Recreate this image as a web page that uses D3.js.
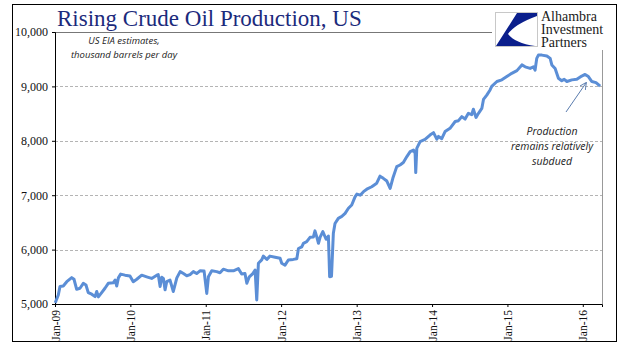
<!DOCTYPE html>
<html>
<head>
<meta charset="utf-8">
<script src="https://cdn.jsdelivr.net/npm/d3@7"></script>
<style>
  body { margin: 0; background: #fff; }
  svg { display: block; }
</style>
</head>
<body>
<div id="chart"></div>
<script>
// weekly-ish readings, thousand barrels per day
let dates = [
  '2009-01-02', '2009-01-17', '2009-01-25', '2009-02-10', '2009-02-27', '2009-03-23', '2009-04-03', '2009-04-16',
  '2009-05-02', '2009-05-18', '2009-05-31', '2009-06-11', '2009-06-28', '2009-07-14', '2009-07-22', '2009-07-30',
  '2009-08-15', '2009-08-31', '2009-09-16', '2009-10-10', '2009-10-19', '2009-10-27', '2009-11-04', '2009-11-15',
  '2009-12-06', '2009-12-30', '2010-01-15', '2010-02-01', '2010-02-25', '2010-03-21', '2010-04-14', '2010-05-09',
  '2010-05-16', '2010-05-25', '2010-06-02', '2010-06-10', '2010-06-18', '2010-06-26', '2010-07-12', '2010-07-28',
  '2010-08-14', '2010-08-30', '2010-09-15', '2010-10-01', '2010-10-17', '2010-11-02', '2010-11-18', '2010-12-04',
  '2010-12-24', '2011-01-06', '2011-01-14', '2011-01-30', '2011-02-23', '2011-03-11', '2011-03-27', '2011-04-21',
  '2011-05-15', '2011-06-08', '2011-06-24', '2011-07-10', '2011-07-19', '2011-07-31', '2011-08-17', '2011-08-28',
  '2011-09-05', '2011-09-13', '2011-09-29', '2011-10-07', '2011-10-24', '2011-11-08', '2011-12-03', '2011-12-27',
  '2012-01-04', '2012-01-20', '2012-02-05', '2012-02-29', '2012-03-17', '2012-03-25', '2012-04-10', '2012-04-18',
  '2012-05-04', '2012-05-20', '2012-06-05', '2012-06-13', '2012-06-22', '2012-06-30', '2012-07-08', '2012-07-21',
  '2012-08-06', '2012-08-17', '2012-08-23', '2012-09-01', '2012-09-10', '2012-09-18', '2012-10-04', '2012-10-21',
  '2012-11-06', '2012-11-22', '2012-12-08', '2012-12-24', '2013-01-02', '2013-01-18', '2013-02-03', '2013-02-19',
  '2013-03-15', '2013-04-08', '2013-04-24', '2013-05-10', '2013-05-27', '2013-06-12', '2013-06-25', '2013-07-14',
  '2013-07-30', '2013-08-15', '2013-09-01', '2013-09-17', '2013-10-03', '2013-10-11', '2013-10-14', '2013-10-19',
  '2013-11-04', '2013-11-28', '2013-12-22', '2014-01-08', '2014-01-24', '2014-02-01', '2014-02-17', '2014-03-05',
  '2014-03-29', '2014-04-23', '2014-05-09', '2014-05-25', '2014-06-10', '2014-06-26', '2014-07-12', '2014-07-20',
  '2014-08-02', '2014-08-13', '2014-08-30', '2014-09-07', '2014-09-23', '2014-10-09', '2014-10-17', '2014-11-11',
  '2014-12-05', '2014-12-29', '2015-01-22', '2015-02-16', '2015-03-12', '2015-03-28', '2015-04-21', '2015-05-07',
  '2015-05-15', '2015-05-23', '2015-05-31', '2015-06-17', '2015-07-11', '2015-07-27', '2015-08-04', '2015-08-20',
  '2015-09-05', '2015-09-21', '2015-10-03', '2015-10-16', '2015-11-09', '2015-12-03', '2015-12-27', '2016-01-12',
  '2016-01-28', '2016-02-14', '2016-03-05', '2016-03-25'
]

let production = [
  5020, 5165, 5320, 5330, 5410, 5485, 5455, 5270,
  5290, 5380, 5350, 5210, 5180, 5135, 5230, 5130,
  5210, 5290, 5380, 5390, 5440, 5330, 5480, 5550,
  5530, 5515, 5410, 5455, 5530, 5500, 5470, 5530,
  5540, 5320, 5490, 5470, 5260, 5410, 5440, 5230,
  5480, 5595, 5560, 5520, 5540, 5595, 5560, 5610,
  5605, 5195, 5500, 5610, 5595, 5575, 5640, 5610,
  5610, 5650, 5550, 5560, 5380, 5500, 5560, 5625,
  5075, 5750, 5810, 5880, 5820, 5880, 5860, 5840,
  5750, 5715, 5810, 5820, 5830, 6020, 6050, 6115,
  6145, 6225, 6230, 6345, 6230, 6115, 6230, 6330,
  6190, 6250, 5500, 5510, 6300, 6480, 6575, 6610,
  6665, 6760, 6820, 6970, 7020, 7000, 7065, 7110,
  7155, 7220, 7350, 7310, 7260, 7125, 7310, 7525,
  7555, 7600, 7710, 7800, 7830, 7770, 7415, 7860,
  7985, 8025, 8105, 8150, 8030, 8080, 8040, 8170,
  8230, 8355, 8370, 8445, 8400, 8505, 8480, 8580,
  8430, 8500, 8595, 8760, 8840, 8935, 9000, 9090,
  9120, 9180, 9240, 9290, 9395, 9360, 9330, 9360,
  9300, 9515, 9575, 9575, 9560, 9515, 9395, 9330,
  9150, 9105, 9130, 9090, 9120, 9130, 9190, 9220,
  9180, 9090, 9070, 9005
]

let yTicks = [5000, 6000, 7000, 8000, 9000, 10000]
let gridTicks = [6000, 7000, 8000, 9000]
let xDomain = ['2009-01-01', '2016-04-03']

let noteLeft = ['US EIA estimates,', 'thousand barrels per day']
let noteRight = ['Production', 'remains relatively', 'subdued']
let logoLines = ['Alhambra', 'Investment', 'Partners']

let width = 641
let height = 361
let margin = { top: 32, left: 55, right: 39, bottom: 57 }
let plotW = width - margin.left - margin.right
let plotH = height - margin.top - margin.bottom

let parse = d3.timeParse('%Y-%m-%d')
let datapoints = dates.map((d, i) => ({ date: parse(d), value: production[i] }))

let xScale = d3.scaleTime()
  .domain(xDomain.map(parse))
  .range([0, plotW])

let yScale = d3.scaleLinear()
  .domain([5000, 10000])
  .range([plotH, 0])

let svg = d3.select('#chart')
  .append('svg')
  .attr('width', width)
  .attr('height', height)

// outer frame
svg.append('rect')
  .attr('x', 12.5)
  .attr('y', 4.5)
  .attr('width', 604)
  .attr('height', 337)
  .attr('fill', 'white')
  .attr('stroke', '#000')

let g = svg.append('g')
  .attr('transform', `translate(${margin.left},${margin.top})`)

// dashed gridlines
g.selectAll('.grid')
  .data(gridTicks)
  .enter()
  .append('line')
  .attr('class', 'grid')
  .attr('x1', 0)
  .attr('x2', plotW)
  .attr('y1', d => Math.round(yScale(d)) + 0.5)
  .attr('y2', d => Math.round(yScale(d)) + 0.5)
  .attr('stroke', '#b4b4b4')
  .attr('stroke-dasharray', '3,2')

// plot area border top / right
g.append('line')
  .attr('x1', 0).attr('x2', plotW)
  .attr('y1', 0.5).attr('y2', 0.5)
  .attr('stroke', '#777')
g.append('line')
  .attr('x1', plotW + 0.5).attr('x2', plotW + 0.5)
  .attr('y1', 0).attr('y2', plotH)
  .attr('stroke', '#999')

// y axis
let yAxis = d3.axisLeft(yScale)
  .tickValues(yTicks)
  .tickSize(3)
  .tickFormat(d3.format(','))
g.append('g')
  .attr('class', 'y-axis')
  .call(yAxis)
  .call(s => s.select('.domain').attr('stroke', '#000'))
  .call(s => s.selectAll('text')
    .attr('font-family', 'Liberation Serif, serif')
    .attr('font-size', 12)
    .attr('fill', '#111')
    .attr('x', -7))

// x axis
let xAxis = d3.axisBottom(xScale)
  .ticks(d3.timeYear.every(1))
  .tickSize(3)
  .tickFormat(d3.timeFormat('%b-%y'))
g.append('g')
  .attr('class', 'x-axis')
  .attr('transform', `translate(0,${plotH})`)
  .call(xAxis)
  .call(s => s.select('.domain').attr('stroke', '#000'))
  .call(s => s.selectAll('text')
    .attr('font-family', 'Liberation Serif, serif')
    .attr('font-size', 11.5)
    .attr('fill', '#111')
    .attr('text-anchor', 'end')
    .attr('transform', 'rotate(-90)')
    .attr('x', -6)
    .attr('y', 0)
    .attr('dy', '0.35em'))

// the production line
let line = d3.line()
  .x(d => xScale(d.date))
  .y(d => yScale(d.value))

g.append('path')
  .datum(datapoints)
  .attr('d', line)
  .attr('fill', 'none')
  .attr('stroke', '#5b8ed6')
  .attr('stroke-width', 3)
  .attr('stroke-linejoin', 'round')

// white patch behind the logo
svg.append('rect')
  .attr('x', 492)
  .attr('y', 5)
  .attr('width', 124)
  .attr('height', 45)
  .attr('fill', 'white')

// logo
let logo = svg.append('g').attr('transform', 'translate(495,12)')
logo.append('rect')
  .attr('x', 0.5).attr('y', 0.5)
  .attr('width', 42).attr('height', 34)
  .attr('fill', 'white')
  .attr('stroke', '#c8c8c8')
logo.append('path')
  .attr('d', 'M22,1 L42,1 L42,4 Q20,12 13,22 Q20,31 40,34 L1,34 Z')
  .attr('fill', '#0b1f8c')

logo.selectAll('.logo-text')
  .data(logoLines)
  .enter()
  .append('text')
  .text(d => d)
  .attr('x', 46)
  .attr('y', (d, i) => 9 + i * 12.8)
  .attr('font-family', 'Liberation Serif, serif')
  .attr('font-size', 14)
  .attr('fill', '#1a1a1a')

// title
svg.append('text')
  .text('Rising Crude Oil Production, US')
  .attr('x', 57)
  .attr('y', 26)
  .attr('font-family', 'Liberation Serif, serif')
  .attr('font-size', 23)
  .attr('fill', '#1b2a7c')

// notes
svg.selectAll('.note-left')
  .data(noteLeft)
  .enter()
  .append('text')
  .text(d => d)
  .attr('x', 124)
  .attr('y', (d, i) => 44 + i * 13.5)
  .attr('text-anchor', 'middle')
  .attr('font-family', 'Open Sans, sans-serif')
  .attr('font-style', 'italic')
  .attr('font-size', 9.5)
  .attr('fill', '#222')

svg.selectAll('.note-right')
  .data(noteRight)
  .enter()
  .append('text')
  .text(d => d)
  .attr('x', 552)
  .attr('y', (d, i) => 135 + i * 15)
  .attr('text-anchor', 'middle')
  .attr('font-family', 'Open Sans, sans-serif')
  .attr('font-style', 'italic')
  .attr('font-size', 10.5)
  .attr('fill', '#222')

// arrow
svg.append('defs')
  .append('marker')
  .attr('id', 'arrow')
  .attr('viewBox', '0 0 10 10')
  .attr('refX', 9)
  .attr('refY', 5)
  .attr('markerWidth', 7)
  .attr('markerHeight', 7)
  .attr('orient', 'auto')
  .append('path')
  .attr('d', 'M0,0 L10,5 L0,10')
  .attr('fill', 'none')
  .attr('stroke', '#5a7cae')
  .attr('stroke-width', 1.3)

svg.append('line')
  .attr('x1', 566).attr('y1', 112)
  .attr('x2', 586).attr('y2', 83)
  .attr('stroke', '#5a7cae')
  .attr('stroke-width', 1)
  .attr('marker-end', 'url(#arrow)')
</script>
</body>
</html>
